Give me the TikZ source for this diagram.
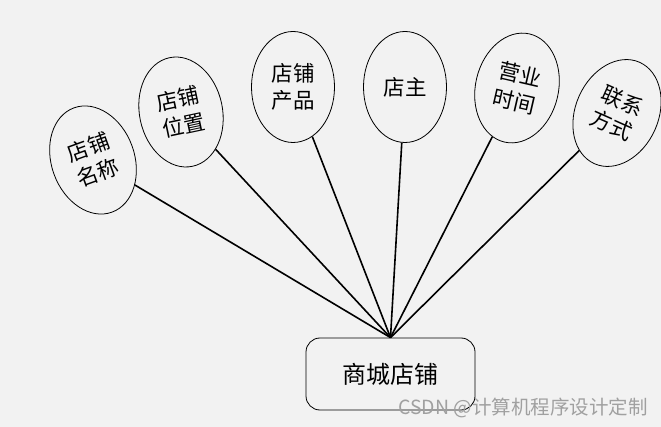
\documentclass[tikz,border=0pt]{standalone}
\usepackage{fontspec}
\newfontfamily\cjk{Noto Sans CJK SC}
\usetikzlibrary{shapes.geometric}
\definecolor{bg-gray}{HTML}{F2F2F2}
\definecolor{mark-gray}{HTML}{A0A0A0}

\begin{document}
\begin{tikzpicture}[x=1pt, y=-1pt, line width=1.6pt,
    attr/.style={draw, ellipse, line width=0.8pt, minimum width=83pt, minimum height=111pt,
      inner sep=0pt, align=center, font=\cjk\fontsize{21.5}{27}\selectfont},
    entity/.style={draw, rounded corners=14pt, line width=0.8pt, minimum width=169pt,
      minimum height=72pt, font=\cjk\fontsize{24}{28}\selectfont}]
        \fill[bg-gray] (0,0) rectangle (661,427);
        \useasboundingbox (0,0) rectangle (661,427);

        \node[entity] (shop) at (390.5,374) {商城店铺};
        \node[attr, rotate=20] (name) at (93,160) {店铺\\名称};
        \node[attr, rotate=12] (place) at (181,112) {店铺\\位置};
        \node[attr] (goods) at (293,87) {店铺\\产品};
        \node[attr] (owner) at (405,87) {店主};
        \node[attr, rotate=-13] (hours) at (517,88) {营业\\时间};
        \node[attr, rotate=-24] (contact) at (617,113) {联系\\方式};
        \node[anchor=west, text=mark-gray, font=\cjk\fontsize{19.5}{22}\selectfont] (wm) at (394,408) {CSDN @计算机程序设计定制};

        \draw (name) -- (shop.north);
        \draw (place) -- (shop.north);
        \draw (goods) -- (shop.north);
        \draw (owner) -- (shop.north);
        \draw (hours) -- (shop.north);
        \draw (contact) -- (shop.north);
      \end{tikzpicture}
\end{document}
